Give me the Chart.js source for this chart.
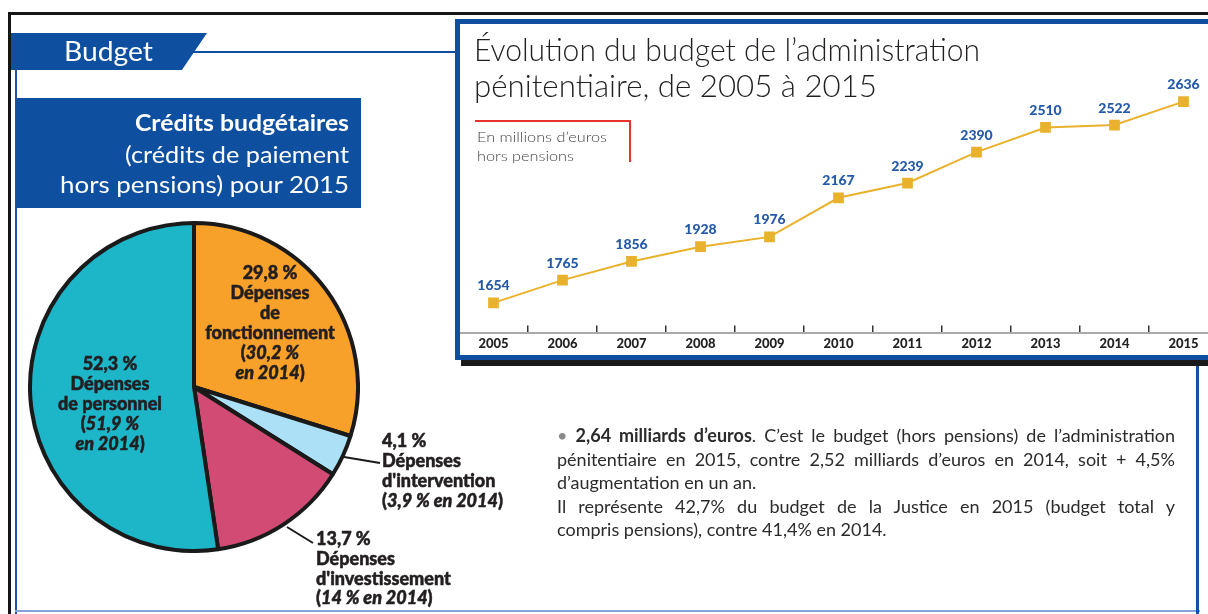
<!DOCTYPE html>
<html><head><meta charset="utf-8">
<script src="https://cdn.jsdelivr.net/npm/chart.js@4.4.1/dist/chart.umd.min.js"></script>
<style>
html,body{margin:0;padding:0;}
body{width:1208px;height:614px;position:relative;overflow:hidden;background:#fff;font-family:Lato,"Noto Sans",sans-serif;color:#231f20;}
.abs{position:absolute;}
.t{position:absolute;white-space:nowrap;display:inline-block;z-index:5;}
.heavy{-webkit-text-stroke:0.5px #231f20;}
canvas{position:absolute;}
</style></head>
<body>
<!-- frame -->
<div class="abs" style="left:8px;top:12px;width:1200px;height:3px;background:#151515"></div>
<div class="abs" style="left:8px;top:12px;width:3px;height:602px;background:#151515"></div>
<div class="abs" style="left:15px;top:70px;width:2px;height:544px;background:#1a55ad"></div>
<div class="abs" style="left:15px;top:610px;width:1185px;height:2px;background:#86a3d8"></div>
<div class="abs" style="left:1196px;top:360px;width:3px;height:254px;background:#1450a8"></div>
<!-- Budget tab -->
<div class="abs" style="left:11px;top:33px;width:196px;height:37px;background:#0e4fa0;clip-path:polygon(0 0,100% 0,87.2% 100%,0 100%)"></div>
<div class="abs" style="left:190px;top:51px;width:268px;height:2px;background:#0e4fa0"></div>
<!-- blue title box -->
<div class="abs" style="left:16px;top:98px;width:345px;height:110px;background:#0e4fa0"></div>
<!-- line chart box -->
<div class="abs" style="left:461px;top:359px;width:760px;height:7px;background:#1a1a1a"></div>
<div class="abs" style="left:455px;top:19px;width:800px;height:331px;border:5px solid #0e4fa0;background:#fff"></div>
<div class="abs" style="left:475px;top:120px;width:154px;height:40px;border-top:2px solid #e8322b;border-right:2px solid #e8322b;z-index:4"></div>

<canvas id="line" width="759" height="339" style="left:459px;top:24px;z-index:3"></canvas>
<div class="abs" style="left:455px;top:300px;width:5px;height:50px;background:#0e4fa0;z-index:4"></div>
<canvas id="pie" width="332" height="332" style="left:28px;top:221px;z-index:3"></canvas>
<svg class="abs" style="left:0;top:0;z-index:4" width="1208" height="614">
  <line x1="344" y1="457" x2="380" y2="463" stroke="#1a1a1a" stroke-width="2"/>
  <line x1="287" y1="527" x2="313" y2="543" stroke="#1a1a1a" stroke-width="2"/>
</svg>

<script>
// ---- data ----
const years = ['2005','2006','2007','2008','2009','2010','2011','2012','2013','2014','2015'];
const budget = [1654,1765,1856,1928,1976,2167,2239,2390,2510,2522,2636];
const pieLabels = ['Dépenses de fonctionnement','Dépenses d\'intervention','Dépenses d\'investissement','Dépenses de personnel'];
const pieShares2015 = [29.8,4.1,13.7,52.3];
const pieShares2014 = [30.2,3.9,14,51.9];
const pieColors = ['#f7a02a','#ace0f6','#d24b74','#1db5c8'];

Chart.defaults.font.family = 'Lato, "Noto Sans", sans-serif';
Chart.defaults.animation = false;

// ---- text helper ----
function T(html, x, cy, size, o) {
  o = o || {};
  const d = document.createElement('div');
  d.className = 't' + (o.heavy ? ' heavy' : '');
  d.innerHTML = html;
  d.style.fontSize = size + 'px';
  d.style.lineHeight = (size * 1.2) + 'px';
  d.style.top = (cy - size * 0.6) + 'px';
  d.style.fontWeight = o.w || 400;
  d.style.color = o.c || '#231f20';
  document.body.appendChild(d);
  const wn = d.getBoundingClientRect().width;
  const sx = o.fit ? o.fit / wn : 1;
  const w = wn * sx;
  const a = o.a || 'left';
  const left = a === 'left' ? x : a === 'right' ? x - w : x - w / 2;
  d.style.left = left + 'px';
  d.style.transformOrigin = '0 50%';
  if (sx !== 1) d.style.transform = 'scaleX(' + sx + ')';
  return d;
}
const fmt = v => String(v).replace('.', ',');

// header texts
T('Budget', 64, 51, 27, {c:'#fff', fit:89});
T('Crédits budgétaires', 349, 123, 23, {c:'#fff', w:700, a:'right', fit:214});
T('(crédits de paiement', 349, 155, 23, {c:'#fff', a:'right', fit:224});
T('hors pensions) pour 2015', 349, 185, 23, {c:'#fff', a:'right', fit:289});
T('Évolution du budget de l\u2019administration', 474, 50, 31, {w:300, fit:506});
T('pénitentiaire, de 2005 à 2015', 474, 86, 31, {w:300, fit:403});
T('En millions d\u2019euros', 477, 137, 14, {c:'#444', w:300, fit:130});
T('hors pensions', 477, 156, 14, {c:'#444', w:300, fit:97});

// pie labels
const PL = 18;
function block(lines, x, y0, dy, a) {
  lines.forEach((l, k) => T(l, x, y0 + k * dy, PL, {w:900, a:a, heavy:true}));
}
block([fmt(pieShares2015[0]) + ' %', 'Dépenses', 'de', 'fonctionnement',
       '(<i>' + fmt(pieShares2014[0]) + ' %</i>', '<i>en 2014</i>)'], 270, 273, 20, 'center');
block([fmt(pieShares2015[3]) + ' %', 'Dépenses', 'de personnel',
       '(<i>' + fmt(pieShares2014[3]) + ' %</i>', '<i>en 2014</i>)'], 110, 364, 20, 'center');
block([fmt(pieShares2015[1]) + ' %', 'Dépenses', 'd\'intervention',
       '(<i>' + fmt(pieShares2014[1]) + ' % en 2014</i>)'], 382, 441, 20, 'left');
block([fmt(pieShares2015[2]) + ' %', 'Dépenses', 'd\'investissement',
       '(<i>' + fmt(pieShares2014[2]) + ' % en 2014</i>)'], 316, 539, 19.7, 'left');

// paragraph
const par = [
  ['<span style="color:#8a8a8a">•</span> <b>2,64 milliards d\u2019euros</b>. C\u2019est le budget (hors pensions) de l\u2019administration', true],
  ['pénitentiaire en 2015, contre 2,52 milliards d\u2019euros en 2014, soit + 4,5%', true],
  ['d\u2019augmentation en un an.', false],
  ['Il représente 42,7% du budget de la Justice en 2015 (budget total y', true],
  ['compris pensions), contre 41,4% en 2014.', false]
];
par.forEach((p, k) => {
  const d = document.createElement('div');
  d.className = 't';
  d.innerHTML = p[0];
  d.style.cssText += 'font-size:18px;line-height:21px;color:#2b2b2b;left:557px;width:618px;white-space:nowrap;';
  d.style.top = (435.5 + k * 23.6 - 10.5) + 'px';
  if (p[1]) { d.style.textAlign = 'justify'; d.style.textAlignLast = 'justify'; }
  document.body.appendChild(d);
});

// ---- line chart ----
const valueLabels = {
  id: 'valueLabels',
  afterDatasetsDraw(chart) {
    const ctx = chart.ctx, meta = chart.getDatasetMeta(0);
    ctx.save();
    ctx.font = '900 14px Lato, "Noto Sans", sans-serif';
    ctx.fillStyle = '#2559aa';
    ctx.textAlign = 'center';
    ctx.textBaseline = 'middle';
    meta.data.forEach((pt, i) => ctx.fillText(String(budget[i]), pt.x, pt.y - 17));
    ctx.restore();
  }
};
new Chart(document.getElementById('line'), {
  type: 'line',
  data: { labels: years, datasets: [{
    data: budget, borderColor: '#e9b22c', borderWidth: 2,
    pointStyle: 'rect', pointRadius: 7.6, pointBorderWidth: 0,
    pointBackgroundColor: '#e9b22c', tension: 0
  }]},
  options: {
    responsive: false, devicePixelRatio: 1,
    layout: { padding: 0, autoPadding: false },
    plugins: { legend: {display:false}, tooltip: {enabled:false} },
    scales: {
      x: { offset: true,
        grid: { offset: true, drawOnChartArea: false, tickLength: -8, color: '#333', lineWidth: 1.5 },
        border: { color: '#a9a9a9', width: 2 },
        ticks: { padding: 11, color: '#222', font: { size: 13, weight: '900' } } },
      y: { display: false, min: 1505, max: 3015 }
    }
  },
  plugins: [valueLabels]
});

// ---- pie chart ----
new Chart(document.getElementById('pie'), {
  type: 'pie',
  data: { labels: pieLabels, datasets: [{
    data: pieShares2015, backgroundColor: pieColors,
    borderColor: '#1a1a1a', borderWidth: 4
  }]},
  options: {
    responsive: false, devicePixelRatio: 1,
    plugins: { legend: {display:false}, tooltip: {enabled:false} }
  }
});
</script>
</body></html>
